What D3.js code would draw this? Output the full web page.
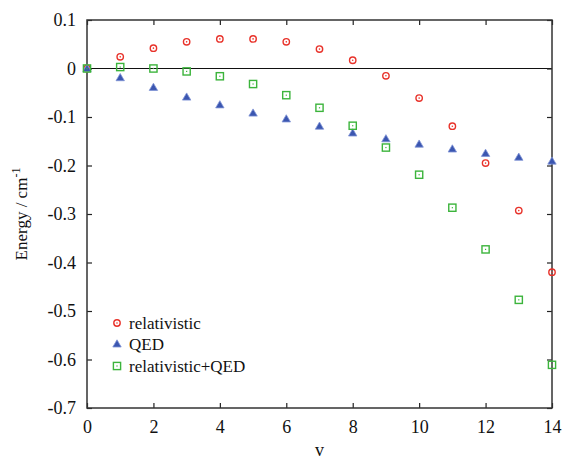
<!DOCTYPE html>
<html><head><meta charset="utf-8">
<script src="https://cdn.jsdelivr.net/npm/d3@7"></script>
<style>body{margin:0;background:#fff}svg{display:block}text{font-family:"Liberation Serif","Times New Roman",serif;fill:#111}</style>
</head><body><svg id="c" width="563" height="460"></svg>
<script>
const v = [0,1,2,3,4,5,6,7,8,9,10,11,12,13,14];
const relativistic = [0,0.024,0.042,0.055,0.061,0.061,0.055,0.040,0.017,-0.015,-0.061,-0.119,-0.195,-0.293,-0.420];
const qed = [0,-0.019,-0.039,-0.059,-0.075,-0.092,-0.104,-0.119,-0.133,-0.145,-0.156,-0.166,-0.175,-0.183,-0.191];
const relQed = [0,0.003,0.000,-0.006,-0.016,-0.032,-0.055,-0.081,-0.118,-0.163,-0.219,-0.287,-0.373,-0.477,-0.611];
const xTicks = [0,2,4,6,8,10,12,14];
const yTicks = [0.1,0,-0.1,-0.2,-0.3,-0.4,-0.5,-0.6,-0.7];
const seriesNames = ["relativistic","QED","relativistic+QED"];

const svg = d3.select("#c");
const L=87,R=552,T=20,B=408;
const x = d3.scaleLinear().domain([0,14]).range([L,R]);
const y = d3.scaleLinear().domain([-0.7,0.1]).range([B,T]);
const red="#e8322a", blue="#3b56b0", green="#3cb43c";

svg.append("line").attr("x1",L).attr("x2",R).attr("y1",y(0)).attr("y2",y(0)).attr("stroke","#111").attr("stroke-width",1.2);

const fmt = d=> d===0?"0":String(+d.toFixed(1)).replace("\u2212","-");
svg.append("g").attr("transform",`translate(0,${B})`).call(d3.axisBottom(x).tickValues(xTicks).tickSize(-5).tickPadding(12).tickFormat(d=>String(d)))
  .call(g=>{g.select(".domain").remove();g.selectAll("text").attr("font-size",18).style("font-family","Liberation Serif");});
svg.append("g").attr("transform",`translate(0,${T})`).call(d3.axisTop(x).tickValues(xTicks).tickSize(-5).tickFormat(""))
  .call(g=>g.select(".domain").remove());
svg.append("g").attr("transform",`translate(${L},0)`).call(d3.axisLeft(y).tickValues(yTicks).tickSize(-5).tickPadding(11).tickFormat(fmt))
  .call(g=>{g.select(".domain").remove();g.selectAll("text").attr("font-size",18).style("font-family","Liberation Serif");});
svg.append("g").attr("transform",`translate(${R},0)`).call(d3.axisRight(y).tickValues(yTicks).tickSize(-5).tickFormat(""))
  .call(g=>g.select(".domain").remove());
svg.selectAll(".tick line").attr("stroke","#222").attr("stroke-width",1.2);
svg.append("rect").attr("x",L).attr("y",T).attr("width",R-L).attr("height",B-T).attr("fill","none").attr("stroke","#333").attr("stroke-width",1.5);

function circle(g,cx,cy){g.append("circle").attr("cx",cx).attr("cy",cy).attr("r",3.2).attr("fill","none").attr("stroke",red).attr("stroke-width",1.4);
  g.append("circle").attr("cx",cx).attr("cy",cy).attr("r",0.8).attr("fill",red);}
function tri(g,cx,cy){g.append("path").attr("d",`M${cx},${cy-4.2}L${cx+4.2},${cy+3}L${cx-4.2},${cy+3}Z`).attr("fill",blue).attr("stroke","#7f93d6").attr("stroke-width",0.8);}
function sq(g,cx,cy){g.append("rect").attr("x",cx-3.6).attr("y",cy-3.6).attr("width",7.2).attr("height",7.2).attr("fill","none").attr("stroke",green).attr("stroke-width",1.4);
  g.append("rect").attr("x",cx-0.6).attr("y",cy-0.6).attr("width",1.2).attr("height",1.2).attr("fill",green);}
const gm = svg.append("g");
v.forEach((d,i)=>circle(gm,x(d),y(relativistic[i])));
v.forEach((d,i)=>tri(gm,x(d),y(qed[i])));
v.forEach((d,i)=>sq(gm,x(d),y(relQed[i])));

const lg = svg.append("g");
const ly=[323,344,366];
circle(lg,117,ly[0]); tri(lg,117,ly[1]); sq(lg,117,ly[2]);
seriesNames.forEach((n,i)=>lg.append("text").attr("x",129).attr("y",ly[i]+6).attr("font-size",17).text(n));

svg.append("text").attr("x",(L+R)/2).attr("y",456).attr("text-anchor","middle").attr("font-size",18).text("v");
const yt = svg.append("text").attr("transform",`translate(27,${(T+B)/2}) rotate(-90)`).attr("text-anchor","middle").attr("font-size",17);
yt.append("tspan").text("Energy / cm");
yt.append("tspan").attr("dy",-7).attr("font-size",12).text("-1");
</script></body></html>
